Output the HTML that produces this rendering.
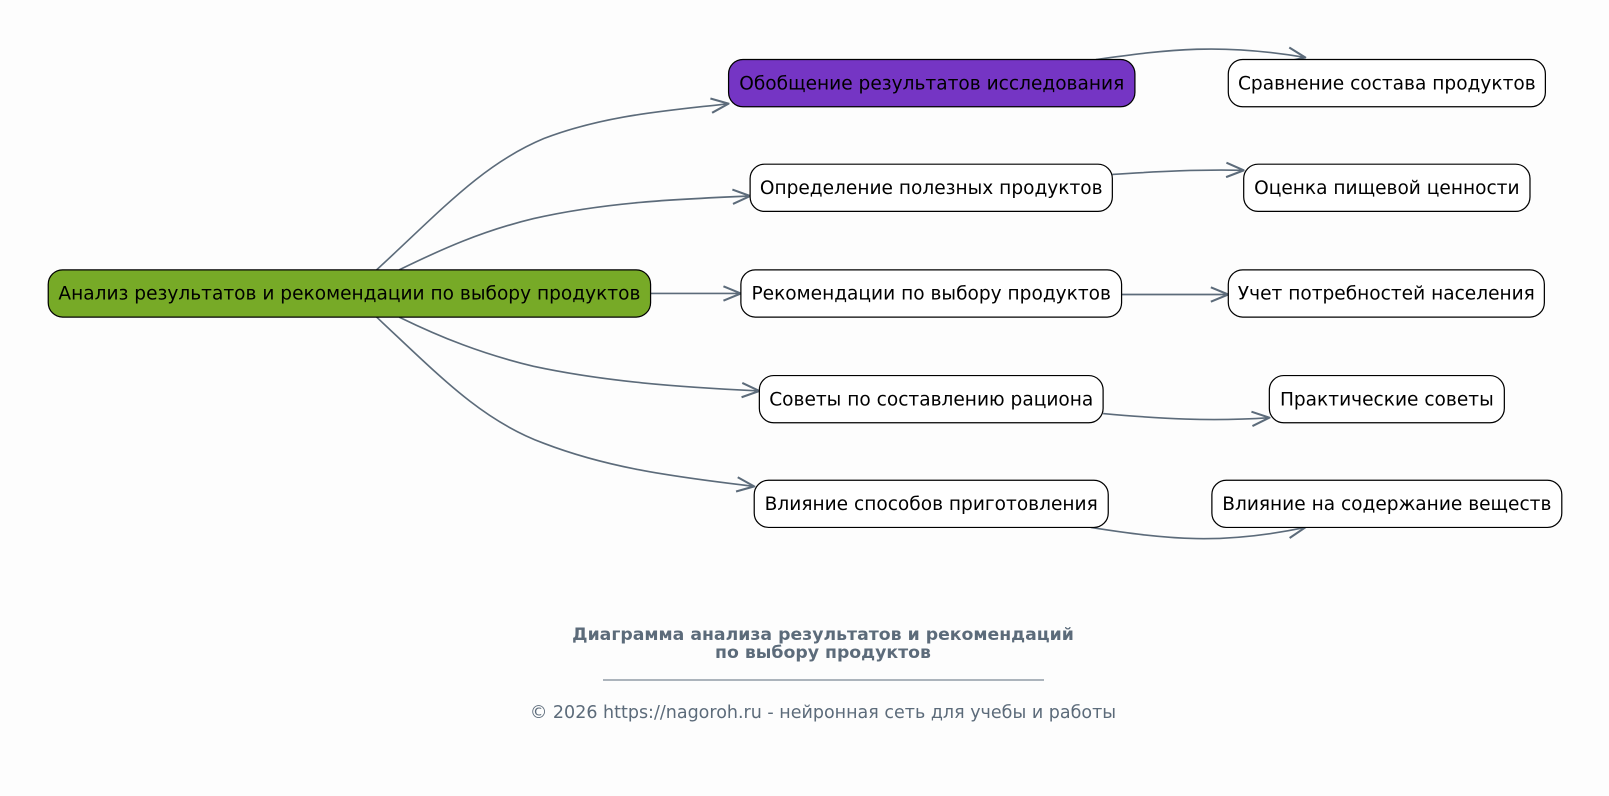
<!DOCTYPE html>
<html><head><meta charset="utf-8"><style>
html,body{margin:0;padding:0;background:#fdfdfd;}
svg{display:block;}
text{font-family:"DejaVu Sans","Liberation Sans",sans-serif;}
</style></head><body>
<svg width="1609" height="796" viewBox="0 0 1609 796" xmlns="http://www.w3.org/2000/svg">
<defs>
<marker id="a" viewBox="0 0 20 16" refX="19" refY="8" markerWidth="20" markerHeight="16" markerUnits="userSpaceOnUse" orient="auto">
<path d="M2,1 L19,8 L2,15" fill="none" stroke="#5c6b7a" stroke-width="2"/>
</marker>
</defs>
<rect width="1609" height="796" fill="#fdfdfd"/>
<g transform="scale(1.02615)">
<g fill="none" stroke="#5c6b7a" stroke-width="1.6" marker-end="url(#a)">
<path d="M367,263 C430,205 470,160 530,135 C590,112 650,108 710,101"/>
<path d="M389,263 C430,243 470,225 520,213 C590,197 660,194 731,191"/>
<path d="M634,286 L722,286"/>
<path d="M389,309 C430,329 470,345 520,357 C590,372 660,377 740,381"/>
<path d="M367,309 C430,368 470,410 530,432 C590,455 650,464 735,474"/>
<path d="M1068,58 C1140,48 1190,42 1272,56"/>
<path d="M1084,170 C1130,167 1170,165 1212,166"/>
<path d="M1093,287 L1197,287"/>
<path d="M1075,403 C1130,408 1180,411 1237,407"/>
<path d="M1063,514 C1140,526 1190,531 1272,514"/>
</g>
<g stroke="#000" stroke-width="1.2">
<rect x="47" y="263" width="587" height="46" rx="14" fill="#77aa27"/>
<rect x="710" y="58" width="396" height="46" rx="14" fill="#7535c4"/>
<rect x="731" y="160" width="353" height="46" rx="14" fill="#fff"/>
<rect x="722" y="263" width="371" height="46" rx="14" fill="#fff"/>
<rect x="740" y="366" width="335" height="46" rx="14" fill="#fff"/>
<rect x="735" y="468" width="345" height="46" rx="14" fill="#fff"/>
<rect x="1197" y="58" width="309" height="46" rx="14" fill="#fff"/>
<rect x="1212" y="160" width="279" height="46" rx="14" fill="#fff"/>
<rect x="1197" y="263" width="308" height="46" rx="14" fill="#fff"/>
<rect x="1237" y="366" width="229" height="46" rx="14" fill="#fff"/>
<rect x="1181" y="468" width="341" height="46" rx="14" fill="#fff"/>
</g>
<g font-size="18.1" fill="#000" text-anchor="middle">
<text x="340.5" y="292">Анализ результатов и рекомендации по выбору продуктов</text>
<text x="908" y="87">Обобщение результатов исследования</text>
<text x="907.5" y="189">Определение полезных продуктов</text>
<text x="907.5" y="292">Рекомендации по выбору продуктов</text>
<text x="907.5" y="395">Советы по составлению рациона</text>
<text x="907.5" y="497">Влияние способов приготовления</text>
<text x="1351.5" y="87">Сравнение состава продуктов</text>
<text x="1351.5" y="189">Оценка пищевой ценности</text>
<text x="1351" y="292">Учет потребностей населения</text>
<text x="1351.5" y="395">Практические советы</text>
<text x="1351.5" y="497">Влияние на содержание веществ</text>
</g>
</g>
<g fill="#5c6b7a" text-anchor="middle">
<text x="823" y="640" font-size="17.3" font-weight="bold">Диаграмма анализа результатов и рекомендаций</text>
<text x="823" y="658" font-size="17.3" font-weight="bold">по выбору продуктов</text>
<line x1="603" y1="680" x2="1044" y2="680" stroke="#5c6b7a" stroke-width="1"/>
<text x="823" y="718" font-size="17.5">© 2026 https://nagoroh.ru - нейронная сеть для учебы и работы</text>
</g>
</svg>
</body></html>
